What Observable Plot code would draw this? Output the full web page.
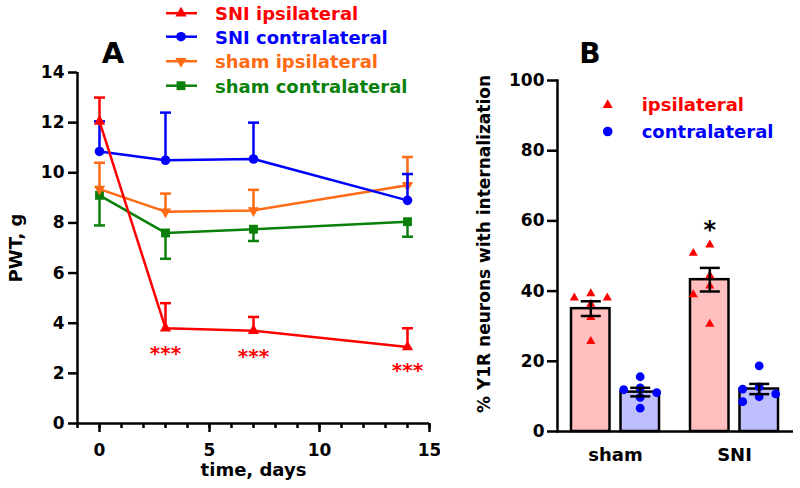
<!DOCTYPE html>
<html><head><meta charset="utf-8">
<script src="https://cdn.jsdelivr.net/npm/d3@7"></script>
<script src="https://cdn.jsdelivr.net/npm/@observablehq/plot@0.6"></script>
<style>
html,body{margin:0;padding:0;background:#fff;}
#wrap{position:relative;width:800px;height:488px;overflow:hidden;font-family:"DejaVu Sans",sans-serif;font-weight:bold;}
#a{position:absolute;left:0;top:0;}
#b{position:absolute;left:440px;top:0;}
#leg{position:absolute;left:0;top:0;pointer-events:none;}
#wrap svg g[aria-label*="axis"]:not([aria-label*="label"]) {stroke-width: 2.5px;}
</style></head>
<body><div id="wrap"><div id="a"></div><div id="b"></div><svg id="leg" width="800" height="488"></svg></div>
<script>
// ---------- Panel A data ----------
const days = [0, 3, 7, 14];
const seriesNames = ["SNI ipsilateral", "SNI contralateral", "sham ipsilateral", "sham contralateral"];
const sniIpsiMean = [12.05, 3.8, 3.7, 3.05];
const sniIpsiSem = [0.95, 1.0, 0.55, 0.75];
const sniContraMean = [10.85, 10.5, 10.55, 8.9];
const sniContraSem = [1.2, 1.9, 1.45, 1.05];
const shamIpsiMean = [9.35, 8.45, 8.5, 9.5];
const shamIpsiSem = [1.05, 0.72, 0.82, 1.13];
const shamContraMean = [9.1, 7.6, 7.75, 8.05];
const shamContraSem = [1.2, 1.03, 0.47, 0.6];
const starDays = [3, 7, 14];
const starY = [2.8, 2.67, 2.11];
const starLabel = "***";
const xTicksA = [0, 5, 10, 15];
const yTicksA = [0, 2, 4, 6, 8, 10, 12, 14];

// ---------- Panel B data ----------
const bGroups = ["sham", "SNI"];
const bSides = ["ipsilateral", "contralateral"];
const shamIpsiPts = [38.1, 39.3, 38.1, 36.3, 32.5, 25.7];
const shamContraPts = [15.6, 12.4, 11.9, 11.1, 9.7, 6.65];
const sniIpsiPts = [53.2, 50.8, 44.4, 41.5, 39.0, 30.6];
const sniContraPts = [18.7, 12.7, 12.1, 10.7, 9.9, 8.5];
const yTicksB = [0, 20, 40, 60, 80, 100];
const sigB = {group: "SNI", side: "ipsilateral", y: 57.2, label: "*"};

// ---------- styles ----------
const FONT = "DejaVu Sans";
const SW = 2.5;
const seriesStyle = {
  "SNI ipsilateral":   {color: "#ff0000", symbol: "triangle", r: 4.2, rotate: 0,   dir: 1},
  "SNI contralateral": {color: "#0000ff", symbol: "circle",   r: 4.8, rotate: 0,   dir: 1},
  "sham ipsilateral":  {color: "#ff6a14", symbol: "triangle", r: 4.2, rotate: 180, dir: 1},
  "sham contralateral":{color: "#0a800a", symbol: "square",   r: 5.0, rotate: 0,   dir: -1}
};
const sideStyle = {
  ipsilateral:   {fill: "#ffbfbf", dot: "#ff0000", symbol: "triangle", r: 3.4, off: -24.7, legend: "ipsilateral"},
  contralateral: {fill: "#bfbfff", dot: "#0000ff", symbol: "circle",   r: 4.4, off: 24.7,  legend: "contralateral"}
};
const cap = half => ({draw(ctx) { ctx.moveTo(-half, 0); ctx.lineTo(half, 0); }});

// ---------- Panel A ----------
const meansA = [sniIpsiMean, sniContraMean, shamIpsiMean, shamContraMean];
const semsA = [sniIpsiSem, sniContraSem, shamIpsiSem, shamContraSem];
const rowsA = seriesNames.flatMap((name, k) => days.map((d, i) => ({
  series: name, day: d, mean: meansA[k][i],
  end: meansA[k][i] + seriesStyle[name].dir * semsA[k][i]
})));
const stars = starDays.map((d, i) => ({day: d, y: starY[i], label: starLabel}));
const drawOrder = ["sham contralateral", "sham ipsilateral", "SNI contralateral", "SNI ipsilateral"];
const seriesMarks = drawOrder.flatMap(name => {
  const s = seriesStyle[name];
  const data = rowsA.filter(r => r.series === name);
  return [
    Plot.ruleX(data, {x: "day", y1: "mean", y2: "end", stroke: s.color, strokeWidth: SW}),
    Plot.dot(data, {x: "day", y: "end", symbol: cap(5.5), fill: "none", stroke: s.color, strokeWidth: SW}),
    Plot.line(data, {x: "day", y: "mean", stroke: s.color, strokeWidth: SW}),
    Plot.dot(data, {x: "day", y: "mean", symbol: s.symbol, r: s.r, fill: s.color, stroke: "none", rotate: s.rotate})
  ];
});

const plotA = Plot.plot({
  width: 440, height: 488,
  marginLeft: 77, marginRight: 11, marginTop: 72, marginBottom: 65,
  style: {fontFamily: FONT, fontWeight: "bold", fontSize: "17px", background: "transparent", color: "#000"},
  x: {domain: [-1, 15]},
  y: {domain: [0, 14]},
  marks: [
    Plot.axisX({ticks: d3.range(-1, 16), tickSize: 5, strokeWidth: SW, tickFormat: () => "", label: null}),
    Plot.axisX({ticks: xTicksA, tickSize: 9, strokeWidth: SW, tickPadding: 11, label: null}),
    Plot.axisY({ticks: yTicksA, tickSize: 9, strokeWidth: SW, tickPadding: 4, label: null}),
    Plot.ruleY([0], {stroke: "#000", strokeWidth: SW}),
    Plot.ruleX([-1], {stroke: "#000", strokeWidth: SW}),
    Plot.text(["time, days"], {text: d => d, frameAnchor: "bottom", dy: 47, fontSize: 18, lineAnchor: "middle", textAnchor: "middle"}),
    Plot.text(["PWT, g"], {text: d => d, frameAnchor: "left", dx: -61, rotate: -90, fontSize: 18, lineAnchor: "middle", textAnchor: "middle"}),
    ...seriesMarks,
    Plot.text(stars, {x: "day", y: "y", text: "label", fill: "#ff0000", fontSize: 20, lineAnchor: "middle"})
  ]
});
document.getElementById("a").appendChild(plotA);

// ---------- Panel B ----------
const ptsB = {sham: {ipsilateral: shamIpsiPts, contralateral: shamContraPts},
              SNI: {ipsilateral: sniIpsiPts, contralateral: sniContraPts}};
function columns(values, thr) {
  const order = d3.range(values.length).sort((a, b) => values[b] - values[a]);
  const placed = [], col = new Array(values.length);
  for (const i of order) {
    for (const c of [0, -1, 1, -2, 2]) {
      if (!placed.some(p => p.c === c && Math.abs(p.v - values[i]) < thr)) {
        col[i] = c; placed.push({c, v: values[i]}); break;
      }
    }
  }
  return col;
}
const pointsB = [], statsB = [];
for (const g of bGroups) for (const side of bSides) {
  const v = ptsB[g][side];
  const cols = columns(v, 2.6);
  v.forEach((val, i) => pointsB.push({group: g, side, value: val, col: cols[i]}));
  const mean = d3.mean(v), sem = d3.deviation(v) / Math.sqrt(v.length);
  statsB.push({group: g, side, mean, lo: mean - sem, hi: mean + sem});
}
const COLW = 16.5, BAR_INSET = 49.5;
const bMarks = bSides.flatMap(side => {
  const st = sideStyle[side];
  const stats = statsB.filter(d => d.side === side);
  return [
    Plot.barY(stats, {x: "group", y: "mean", fill: st.fill, stroke: "#000", strokeWidth: SW,
      insetLeft: side === "contralateral" ? BAR_INSET : 0, insetRight: side === "ipsilateral" ? BAR_INSET : 0})
  ];
});
const dotMarks = bSides.flatMap(side => {
  const st = sideStyle[side];
  return [-2, -1, 0, 1, 2].map(c => Plot.dot(pointsB.filter(d => d.side === side && d.col === c),
    {x: "group", y: "value", symbol: st.symbol, r: st.r, fill: st.dot, stroke: "none", dx: st.off + c * COLW}));
});
const errMarks = bSides.flatMap(side => {
  const st = sideStyle[side];
  const stats = statsB.filter(d => d.side === side);
  return [
    Plot.ruleX(stats, {x: "group", y1: "lo", y2: "hi", stroke: "#000", strokeWidth: SW, dx: st.off}),
    Plot.dot(stats, {x: "group", y: "lo", symbol: cap(10), fill: "none", stroke: "#000", strokeWidth: SW, dx: st.off}),
    Plot.dot(stats, {x: "group", y: "hi", symbol: cap(10), fill: "none", stroke: "#000", strokeWidth: SW, dx: st.off})
  ];
});
const plotB = Plot.plot({
  width: 360, height: 488,
  marginLeft: 117, marginRight: 7, marginTop: 80, marginBottom: 57,
  style: {fontFamily: FONT, fontWeight: "bold", fontSize: "17px", background: "transparent", color: "#000"},
  x: {domain: bGroups, paddingInner: 0.26, paddingOuter: 0.115},
  y: {domain: [0, 100]},
  marks: [
    ...bMarks,
    ...dotMarks,
    ...errMarks,
    Plot.text([sigB], {x: "group", y: "y", text: "label", dx: sideStyle[sigB.side].off, fontSize: 24, fill: "#000", lineAnchor: "middle"}),
    Plot.axisX({tickSize: 0, tickPadding: 17, fontSize: 18, label: null}),
    Plot.axisY({ticks: yTicksB, tickSize: 10, tickPadding: 3, strokeWidth: SW, label: null}),
    Plot.frame({anchor: "left", stroke: "#000", strokeWidth: SW}),
    Plot.ruleY([0], {stroke: "#000", strokeWidth: SW}),
    Plot.text(["% Y1R neurons with internalization"], {text: d => d, frameAnchor: "left", dx: -73, dy: -12, rotate: -90, fontSize: 17, lineAnchor: "middle", textAnchor: "middle"})
  ]
});
document.getElementById("b").appendChild(plotB);

// ---------- Legends and panel letters ----------
const leg = d3.select("#leg").style("font-family", FONT).style("font-weight", "bold");
const symMap = {triangle: d3.symbolTriangle, circle: d3.symbolCircle, square: d3.symbolSquare};
const legA = {x0: 166, x1: 197, xm: 181, xt: 215, baselines: [20, 43.5, 68, 92.5]};
seriesNames.forEach((name, i) => {
  const s = seriesStyle[name], yb = legA.baselines[i], ym = yb - 6.8;
  leg.append("line").attr("x1", legA.x0).attr("x2", legA.x1).attr("y1", ym).attr("y2", ym)
    .attr("stroke", s.color).attr("stroke-width", SW);
  leg.append("path").attr("d", d3.symbol(symMap[s.symbol], Math.PI * s.r * s.r)())
    .attr("transform", `translate(${legA.xm},${ym}) rotate(${s.rotate})`).attr("fill", s.color);
  leg.append("text").attr("x", legA.xt).attr("y", yb).attr("font-size", 18).attr("fill", s.color).text(name);
});
const legB = {xm: 607.7, xt: 641.7, baselines: [111, 137.5]};
bSides.forEach((side, i) => {
  const st = sideStyle[side], yb = legB.baselines[i], ym = yb - 6;
  leg.append("path").attr("d", d3.symbol(symMap[st.symbol], Math.PI * st.r * st.r * 1.2)())
    .attr("transform", `translate(${legB.xm},${ym})`).attr("fill", st.dot);
  leg.append("text").attr("x", legB.xt).attr("y", yb).attr("font-size", 18).attr("fill", st.dot).text(st.legend);
});
leg.append("text").attr("x", 113).attr("y", 63).attr("text-anchor", "middle").attr("font-size", 29).text("A");
leg.append("text").attr("x", 590).attr("y", 63).attr("text-anchor", "middle").attr("font-size", 28).text("B");
</script>
</body></html>
